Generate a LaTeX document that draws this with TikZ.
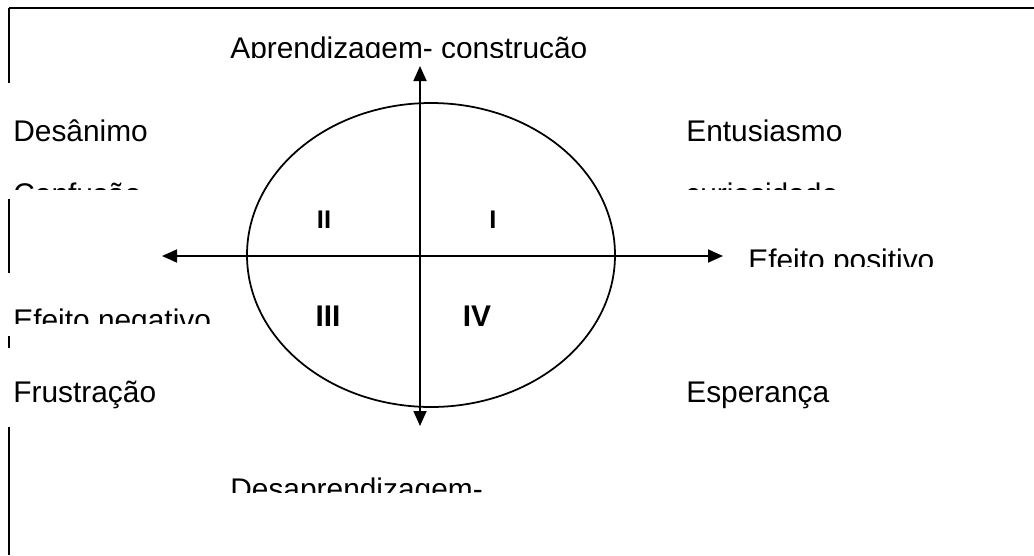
\documentclass[tikz,border=0pt]{standalone}
\usepackage{fontspec}
\setmainfont{Liberation Sans}
\usepackage{tikz}
\usetikzlibrary{positioning,arrows.meta,shapes.geometric}

\begin{document}
\begin{tikzpicture}[
        font=\fontsize{17}{20}\selectfont,
        lbl/.style={
            anchor=base west,
            inner sep=0pt
        },
        quad/.style={
            font=\fontsize{14.5}{17}\selectfont\bfseries,
            inner sep=0pt
        },
        quadbig/.style={
            font=\fontsize{17}{20}\selectfont\bfseries,
            inner sep=0pt
        },
        frame/.style={
            line width=1.1pt,
            draw=black
        },
        axis/.style={
            {Triangle[length=3mm,width=2.6mm]}-{Triangle[length=3mm,width=2.6mm]},
            line width=1pt
        }
    ]
    \useasboundingbox (0,0) rectangle (20.68,11.10);

    % =========================
    % Frame pieces
    % =========================
    \draw[frame] (0.18,10.94) -- (20.68,10.94);
    \draw[frame] (0.18,10.94) -- (0.18,9.44);
    \draw[frame] (0.18,7.12) -- (0.18,5.64);
    \draw[frame] (0.18,4.38) -- (0.18,4.14);
    \draw[frame] (0.18,2.56) -- (0.18,0);

    % =========================
    % Ellipse and axes
    % =========================
    \node[ellipse, draw, line width=1pt, minimum width=7.36cm, minimum height=6.08cm, inner sep=0pt] (Ell) at (8.62,6.00) {};

    \coordinate (axT) at (8.40,9.78);
    \coordinate (axB) at (8.40,2.58);
    \coordinate (axL) at (3.24,5.98);
    \coordinate (axR) at (14.46,5.98);

    \draw[axis] (axB) -- (axT);
    \draw[axis] (axL) -- (axR);

    \node[quad] (Q2) at (6.48,6.70) {II};
    \node[quad] (Q1) at (9.86,6.70) {I};
    \node[quadbig] (Q3) at (6.56,4.78) {III};
    \node[quadbig] (Q4) at (9.54,4.78) {IV};

    % =========================
    % Labels
    % =========================
    \begin{scope}
        \clip (4.4,9.96) rectangle (12.5,10.8);
        \node[lbl] (Top) at (4.60,9.93) {Aprendizagem- construção};
    \end{scope}

    \node[lbl] (Desan) at (0.26,8.28) {Desânimo};
    \node[lbl] (Entus) at (13.72,8.28) {Entusiasmo};

    \begin{scope}
        \clip (0.2,7.32) rectangle (6,7.8);
        \node[lbl] (Conf) at (0.26,7.02) {Confusão};
    \end{scope}
    \begin{scope}
        \clip (13.6,7.32) rectangle (19,7.8);
        \node[lbl] (Curio) at (13.70,7.02) {curiosidade};
    \end{scope}

    \begin{scope}
        \clip (14.8,5.78) rectangle (20.5,6.4);
        \node[lbl] (EfPos) at (14.96,5.70) {Efeito positivo};
    \end{scope}
    \begin{scope}
        \clip (0.2,4.64) rectangle (6,5.2);
        \node[lbl] (EfNeg) at (0.26,4.50) {Efeito negativo};
    \end{scope}

    \node[lbl] (Frust) at (0.26,3.06) {Frustração};
    \node[lbl] (Esper) at (13.72,3.06) {Esperança};

    \begin{scope}
        \clip (4.4,1.26) rectangle (12,1.8);
        \node[lbl] (Bottom) at (4.60,1.12) {Desaprendizagem-};
    \end{scope}

\end{tikzpicture}
\end{document}
